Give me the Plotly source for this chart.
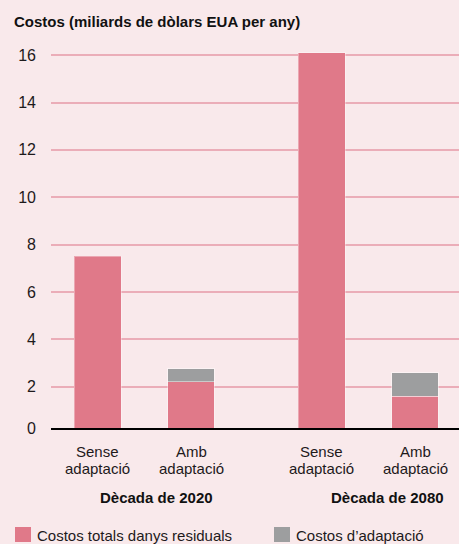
import plotly.graph_objects as go

# ---------------- data ----------------
categories = ["Sense adaptació", "Amb adaptació", "Sense adaptació", "Amb adaptació"]
groups = ["Dècada de 2020", "Dècada de 2080"]
residual_costs = [7.5, 2.2, 16.1, 1.6]
adaptation_costs = [None, 0.55, None, 1.0]
series_names = ["Costos totals danys residuals", "Costos d\u2019adaptació"]
y_tick_values = [0, 2, 4, 6, 8, 10, 12, 14, 16]
y_tick_labels = ["0", "2", "4", "6", "8", "10", "12", "14", "16"]
y_title = "Costos (miliards de dòlars EUA per any)"

# ---------------- layout constants ----------------
W, H = 459, 544
ML, MR, MT, MB = 51, 0, 44, 116
PW, PH = W - ML - MR, H - MT - MB
x_pos = [0, 1, 2.4, 3.4]
group_centers = [0.631, 3.106]
x_range = [-0.5, 3.87]
y_range = [0.257, 16.47]

BG = "#F9E9EB"
PINK = "#E07989"
GRAY = "#9D9E9F"
GRID = "#EBADB8"
TXT = "#1E1A1B"
FONT = "Liberation Sans, Arial, sans-serif"


def px_x(px):
    return (px - ML) / PW


def px_y(py):
    return (H - MB - py) / PH


fig = go.Figure()
fig.add_trace(go.Bar(
    x=x_pos, y=residual_costs, name=series_names[0], width=0.5,
    marker=dict(color=PINK, line=dict(color="rgba(255,255,255,0.35)", width=1)),
    showlegend=False, hoverinfo="skip",
))
fig.add_trace(go.Bar(
    x=x_pos, y=adaptation_costs, name=series_names[1], width=0.5,
    marker=dict(color=GRAY, line=dict(color="rgba(255,255,255,0.45)", width=1)),
    showlegend=False, hoverinfo="skip",
))

# y ticks: the bottom edge stands for 0
tickvals = [y_range[0] if v == 0 else v for v in y_tick_values]

fig.update_layout(
    width=W, height=H,
    margin=dict(l=ML, r=MR, t=MT, b=MB, pad=0),
    paper_bgcolor=BG, plot_bgcolor=BG,
    barmode="stack",
    font=dict(family=FONT, size=15, color=TXT),
    xaxis=dict(range=x_range, showticklabels=False, showgrid=False, zeroline=False,
               showline=True, linecolor="#000000", linewidth=2, ticks=""),
    yaxis=dict(range=y_range, tickvals=tickvals, ticktext=y_tick_labels,
               showgrid=True, gridcolor=GRID, gridwidth=2, zeroline=False,
               showline=False, ticks="", ticklabelstandoff=14,
               tickfont=dict(size=16, color=TXT)),
)

annotations = []
# title
annotations.append(dict(x=px_x(12), y=px_y(21), xref="paper", yref="paper",
                        text="<b>" + y_title + "</b>", showarrow=False,
                        xanchor="left", yanchor="middle",
                        font=dict(size=15, color="#111111")))
# category labels (two lines each)
for xp, cat in zip(x_pos, categories):
    first, second = cat.split(" ", 1)
    annotations.append(dict(x=xp, y=px_y(451), xref="x", yref="paper", text=first,
                            showarrow=False, xanchor="center", yanchor="middle",
                            font=dict(size=15, color=TXT)))
    annotations.append(dict(x=xp, y=px_y(468), xref="x", yref="paper", text=second,
                            showarrow=False, xanchor="center", yanchor="middle",
                            font=dict(size=15, color=TXT)))
# group labels
for gx, g in zip(group_centers, groups):
    annotations.append(dict(x=gx, y=px_y(497), xref="x", yref="paper",
                            text="<b>" + g + "</b>", showarrow=False,
                            xanchor="center", yanchor="middle",
                            font=dict(size=15, color="#111111")))
# legend
legend_items = [(15, PINK, series_names[0]), (274, GRAY, series_names[1])]
shapes = []
for lx, col, name in legend_items:
    shapes.append(dict(type="rect", xref="paper", yref="paper",
                       x0=px_x(lx), x1=px_x(lx + 16), y0=px_y(542), y1=px_y(527),
                       fillcolor=col, line=dict(width=0)))
    annotations.append(dict(x=px_x(lx + 20), y=px_y(535), xref="paper", yref="paper",
                            text=name, showarrow=False, xanchor="left", yanchor="middle",
                            font=dict(size=15, color=TXT)))

fig.update_layout(annotations=annotations, shapes=shapes)
fig.write_html(
    "out.html",
    config={"displayModeBar": False, "staticPlot": True},
    post_script="document.body.style.margin='0';document.body.style.overflow='hidden';",
)
